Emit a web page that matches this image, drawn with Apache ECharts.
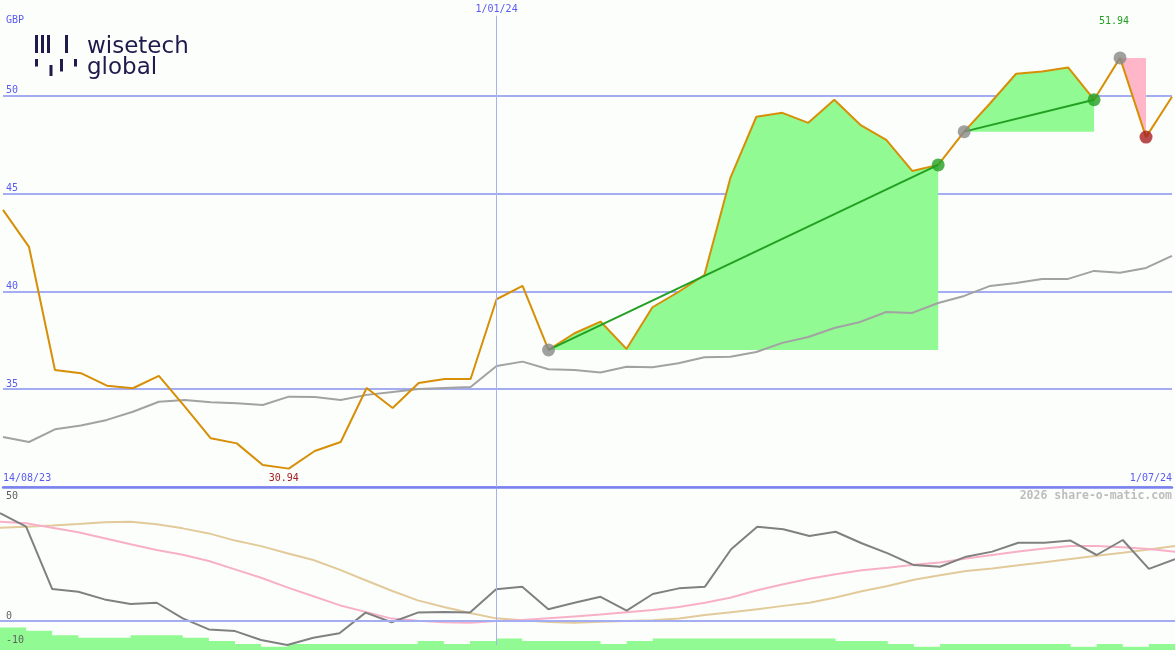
<!DOCTYPE html>
<html><head><meta charset="utf-8">
<script src="https://cdn.jsdelivr.net/npm/echarts@6/dist/echarts.min.js"></script>
<style>html,body{margin:0;padding:0;background:#FCFEFC}#c{width:1175px;height:650px}</style>
</head><body><div id="c"></div>
<script>
const categories = ['14/08/23','21/08/23','28/08/23','4/09/23','11/09/23','18/09/23','25/09/23','2/10/23','9/10/23','16/10/23','23/10/23','30/10/23','6/11/23','13/11/23','20/11/23','27/11/23','4/12/23','11/12/23','18/12/23','1/01/24','8/01/24','15/01/24','22/01/24','29/01/24','5/02/24','12/02/24','19/02/24','26/02/24','4/03/24','11/03/24','18/03/24','25/03/24','1/04/24','8/04/24','15/04/24','22/04/24','29/04/24','6/05/24','13/05/24','20/05/24','27/05/24','3/06/24','10/06/24','17/06/24','24/06/24','1/07/24'];
const priceValues = [44.17,42.28,35.98,35.82,35.18,35.05,35.68,34.11,32.49,32.23,31.13,30.94,31.84,32.30,35.06,34.04,35.32,35.52,35.52,39.60,40.28,37.01,37.86,38.46,37.06,39.19,39.97,40.84,45.80,48.93,49.13,48.62,49.80,48.52,47.75,46.16,46.47,48.17,49.62,51.13,51.25,51.45,49.80,51.94,47.89,49.95];
const averageValues = [32.56,32.30,32.95,33.14,33.43,33.85,34.36,34.45,34.33,34.28,34.19,34.62,34.60,34.45,34.71,34.86,35.01,35.06,35.11,36.19,36.41,36.02,35.98,35.85,36.15,36.12,36.33,36.63,36.66,36.90,37.37,37.67,38.13,38.44,38.95,38.90,39.41,39.77,40.28,40.43,40.64,40.64,41.05,40.95,41.20,41.82];
const oscillatorValues = [44.9,39.3,13.3,12.2,9.0,7.1,7.6,1.1,-3.5,-4.2,-7.9,-10.0,-7.0,-5.1,3.5,-0.5,3.5,3.75,3.5,13.2,14.3,4.9,7.6,10.1,4.3,11.25,13.6,14.3,29.9,39.3,38.2,35.4,37.2,32.4,28.2,23.3,22.6,26.8,28.9,32.6,32.6,33.5,27.5,33.75,21.7,25.8];
const pinkValues = [41.4,40.7,38.9,37.0,34.5,32.0,29.6,27.6,25.0,21.5,18.0,14.0,10.3,6.6,3.8,1.0,0.1,-0.5,-0.7,0.0,0.4,1.1,1.9,2.7,3.6,4.6,5.8,7.6,9.8,12.8,15.3,17.6,19.5,21.1,22.2,23.4,24.4,26.0,27.5,29.0,30.2,31.2,31.2,30.7,30.0,28.9];
const tanValues = [38.9,39.3,39.8,40.4,41.1,41.4,40.3,38.6,36.5,33.5,31.2,28.2,25.4,21.4,17.0,12.6,8.6,5.8,3.3,1.1,0.3,-0.4,-0.7,-0.3,0.0,0.3,1.0,2.5,3.6,4.9,6.3,7.6,9.8,12.4,14.6,17.2,19.1,20.8,21.9,23.2,24.5,25.8,27.2,28.4,29.8,31.25];
const volumeValues = [6.8,5.8,4.5,3.7,3.7,4.5,4.5,3.7,2.7,1.8,1.0,1.8,1.8,1.8,1.8,1.8,2.7,1.8,2.7,3.5,2.7,2.7,2.7,1.8,2.7,3.5,3.5,3.5,3.5,3.5,3.5,3.5,2.7,2.7,1.8,1.0,1.8,1.8,1.8,1.8,1.8,1.0,1.8,1.0,1.8,1.8];
const priceTicks = [35,40,45,50];
const lowerTicks = [50,0,-10];
const buyStarts = [21,37];
const buyEnds = [36,42];
const sellStarts = [43];
const sellEnds = [44];
const markerDate = '1/01/24';

const MONO = '"DejaVu Sans Mono", monospace';
const BLUE = '#5A5AF0';
const GRIDLINE = '#A4ACF2';
const FILL_GREEN = '#92FA92';
const FILL_PINK = '#FFB6C9';
const SIG_GREEN = '#22A022';
const SIG_RED = '#A82020';
const SIG_GRAY = '#888888';
const LOGO = '#1C1B4B';

const markerIndex = categories.indexOf(markerDate);
const lastIndex = categories.length - 1;
function rangeData(s, e) { return priceValues.map((v, i) => (i >= s && i <= e) ? v : null); }

const series = [];
buyStarts.forEach((s, k) => {
  series.push({type:'line', xAxisIndex:0, yAxisIndex:0, data: rangeData(s, buyEnds[k]), symbol:'none', silent:true,
    lineStyle:{width:0}, areaStyle:{color:FILL_GREEN, opacity:1, origin: priceValues[s]}, z:1});
});
sellStarts.forEach((s, k) => {
  series.push({type:'line', xAxisIndex:0, yAxisIndex:0, data: rangeData(s, sellEnds[k]), symbol:'none', silent:true,
    lineStyle:{width:0}, areaStyle:{color:FILL_PINK, opacity:1, origin: priceValues[s]}, z:1});
});
series.push({type:'line', xAxisIndex:0, yAxisIndex:0, data: averageValues, symbol:'none', silent:true,
  lineStyle:{color:'#A2A2A2', width:2}, z:2,
  markLine:{silent:true, symbol:'none', lineStyle:{color:'#A8B0F0', width:1, type:'solid'},
    label:{show:true, position:'end', distance:1, formatter: markerDate, color: BLUE, fontFamily: MONO, fontSize:10},
    data:[[{coord:[markerIndex, 30]}, {coord:[markerIndex, 54.1]}]]}});
series.push({type:'line', xAxisIndex:0, yAxisIndex:0, data: priceValues, symbol:'none', silent:true,
  lineStyle:{color:'#D68F06', width:2}, z:3,
  markPoint:{symbol:'circle', symbolSize:0, silent:true,
    data:[
      {type:'max', label:{show:true, position:'top', distance:31, offset:[-6,0], color:SIG_GREEN, fontFamily:MONO, fontSize:10, formatter:p=>p.value.toFixed(2)}},
      {type:'min', label:{show:true, position:'bottom', distance:5, offset:[-5,0], color:SIG_RED, fontFamily:MONO, fontSize:10, formatter:p=>p.value.toFixed(2)}}
    ]}});
buyStarts.forEach((s, k) => {
  const e = buyEnds[k];
  series.push({type:'line', xAxisIndex:0, yAxisIndex:0, data:[[s, priceValues[s]], [e, priceValues[e]]], symbol:'none', silent:true,
    lineStyle:{color:SIG_GREEN, width:2}, z:4});
});
const dots = [];
buyStarts.forEach(s => dots.push({value:[s, priceValues[s]], itemStyle:{color:SIG_GRAY}}));
sellStarts.forEach(s => dots.push({value:[s, priceValues[s]], itemStyle:{color:SIG_GRAY}}));
buyEnds.forEach(s => dots.push({value:[s, priceValues[s]], itemStyle:{color:SIG_GREEN}}));
sellEnds.forEach(s => dots.push({value:[s, priceValues[s]], itemStyle:{color:SIG_RED}}));
series.push({type:'scatter', xAxisIndex:0, yAxisIndex:0, data: dots, symbol:'circle', symbolSize:13, silent:true, z:5});

// lower panel
series.push({type:'line', xAxisIndex:1, yAxisIndex:1, data: tanValues, symbol:'none', silent:true,
  lineStyle:{color:'#E2CA9A', width:2}, z:1,
  markLine:{silent:true, symbol:'none', label:{show:false},
    data:[
      {xAxis: markerIndex, lineStyle:{color:'#A8B0F0', width:1, type:'solid'}},
      {yAxis: 0, lineStyle:{color:GRIDLINE, width:2, type:'solid'}}
    ]}});
series.push({type:'line', xAxisIndex:2, yAxisIndex:2, data: volumeValues, step:'end', symbol:'none', silent:true,
  lineStyle:{width:0}, areaStyle:{color:FILL_GREEN, opacity:1}, z:2});
series.push({type:'line', xAxisIndex:1, yAxisIndex:1, data: pinkValues, symbol:'none', silent:true,
  lineStyle:{color:'#F8B0C8', width:2}, z:3});
series.push({type:'line', xAxisIndex:1, yAxisIndex:1, data: oscillatorValues, symbol:'none', silent:true,
  lineStyle:{color:'#808080', width:2}, z:4});

const option = {
  backgroundColor:'#FCFEFC',
  animation:false,
  title:[
    {text:'GBP', left:6, top:15, padding:0, textStyle:{color:BLUE, fontSize:10, fontWeight:'normal', fontFamily:MONO}},
    {text:'2026 share-o-matic.com', right:3, top:490, padding:0, textStyle:{color:'#BDBDBD', fontSize:11.5, fontWeight:'bold', fontFamily:MONO}}
  ],
  grid:[
    {left:0, right:0, top:0, height:487},
    {left:0, right:0, top:489, height:156},
    {left:0, right:0, top:487, height:163}
  ],
  xAxis:[
    {gridIndex:0, type:'category', data:categories, boundaryGap:false,
      axisLine:{lineStyle:{color:'#7A82EE', width:2.5}}, axisTick:{show:false}, splitLine:{show:false},
      axisLabel:{inside:true, interval:(i)=> i===0 || i===lastIndex, color:BLUE, fontFamily:MONO, fontSize:10, margin:4,
        alignMinLabel:'left', alignMaxLabel:'right'}},
    {gridIndex:1, type:'category', data:categories, boundaryGap:false, show:false},
    {gridIndex:2, type:'category', data:categories, boundaryGap:false, show:false}
  ],
  yAxis:[
    {gridIndex:0, type:'value', min:30, max:54.9, interval:5, axisLine:{show:false}, axisTick:{show:false},
      splitLine:{showMaxLine:false, lineStyle:{color:GRIDLINE, width:2}},
      axisLabel:{inside:true, margin:3, verticalAlign:'bottom', color:BLUE, fontFamily:MONO, fontSize:10, showMaxLabel:false,
        formatter:v=> priceTicks.includes(v) ? String(v) : ''}},
    {gridIndex:1, type:'value', min:-10, max:55, interval:10, z:20, axisLine:{show:false}, axisTick:{show:false},
      splitLine:{show:false},
      axisLabel:{inside:true, margin:6, verticalAlign:'bottom', color:'#606060', fontFamily:MONO, fontSize:10, showMaxLabel:false, showMinLabel:true,
        formatter:v=> lowerTicks.includes(v) ? String(v) : ''}},
    {gridIndex:2, type:'value', min:0, max:49.4, show:false}
  ],
  graphic:[{type:'group', silent:true, children:[
    {type:'rect', shape:{x:35,y:35,width:3,height:18}, style:{fill:LOGO}},
    {type:'rect', shape:{x:41,y:35,width:3,height:18}, style:{fill:LOGO}},
    {type:'rect', shape:{x:47,y:35,width:3,height:18}, style:{fill:LOGO}},
    {type:'rect', shape:{x:65,y:35,width:3,height:18}, style:{fill:LOGO}},
    {type:'rect', shape:{x:35,y:59,width:3,height:7.5}, style:{fill:LOGO}},
    {type:'rect', shape:{x:49.5,y:65,width:3,height:11}, style:{fill:LOGO}},
    {type:'rect', shape:{x:60,y:59,width:3,height:12.5}, style:{fill:LOGO}},
    {type:'rect', shape:{x:74,y:59,width:3,height:7.5}, style:{fill:LOGO}},
    {type:'text', x:87, y:47, style:{text:'wisetech', verticalAlign:'middle', font:'23px "DejaVu Sans"', fill:LOGO}},
    {type:'text', x:87, y:68, style:{text:'global', verticalAlign:'middle', font:'23px "DejaVu Sans"', fill:LOGO}}
  ]}],
  series: series
};
const chart = echarts.init(document.getElementById('c'), null, {renderer:'canvas'});
chart.setOption(option);
</script></body></html>
